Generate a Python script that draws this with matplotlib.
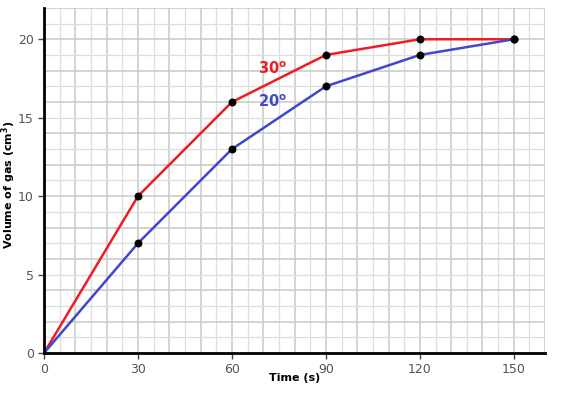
import matplotlib
matplotlib.use("Agg")
import matplotlib.pyplot as plt
from matplotlib.ticker import MultipleLocator

# data
time_s = [0, 30, 60, 90, 120, 150]
vol_30 = [0, 10, 16, 19, 20, 20]
vol_20 = [0, 7, 13, 17, 19, 20]

red = "#ee1c24"
blue = "#3f48cc"

fig = plt.figure(figsize=(5.72, 3.94), dpi=100)
ax = fig.add_axes([0.077, 0.104, 0.876, 0.876])

ax.plot(time_s, vol_30, color=red, lw=1.8, zorder=3)
ax.plot(time_s, vol_20, color=blue, lw=1.8, zorder=3)
ax.scatter(time_s[1:], vol_30[1:], s=22, color="black", zorder=4)
ax.scatter(time_s[1:], vol_20[1:], s=22, color="black", zorder=4)

ax.set_xlim(0, 160)
ax.set_ylim(0, 22)
ax.xaxis.set_major_locator(MultipleLocator(30))
ax.yaxis.set_major_locator(MultipleLocator(5))

# graph-paper style grid
for x in range(5, 161, 5):
    c = "#c8c8c8" if x % 10 == 0 else "#dedede"
    ax.axvline(x, color=c, lw=1.1 if x % 10 == 0 else 0.9, zorder=1)
for y in range(1, 23):
    c = "#c8c8c8" if y % 2 == 0 else "#dedede"
    ax.axhline(y, color=c, lw=1.1 if y % 2 == 0 else 0.9, zorder=1)

for side in ["top", "right"]:
    ax.spines[side].set_visible(False)
for side in ["left", "bottom"]:
    ax.spines[side].set_linewidth(2)
    ax.spines[side].set_zorder(5)

ax.tick_params(labelsize=9, labelcolor="#555555", length=4, color="#444444", width=1)

ax.text(73, 18.1, r"30$^\mathregular{o}$", color=red, fontsize=10.5, fontweight="bold",
        ha="center", va="center", zorder=5)
ax.text(73, 16.0, r"20$^\mathregular{o}$", color=blue, fontsize=10.5, fontweight="bold",
        ha="center", va="center", zorder=5)

fig.text(0.515, 0.04, "Time (s)", fontsize=8, fontweight="bold", ha="center", va="center")
fig.text(0.016, 0.53, "Volume of gas (cm$^\\mathregular{3}$)", fontsize=8, fontweight="bold",
         rotation=90, ha="center", va="center")

fig.savefig("out.png", dpi=100)
